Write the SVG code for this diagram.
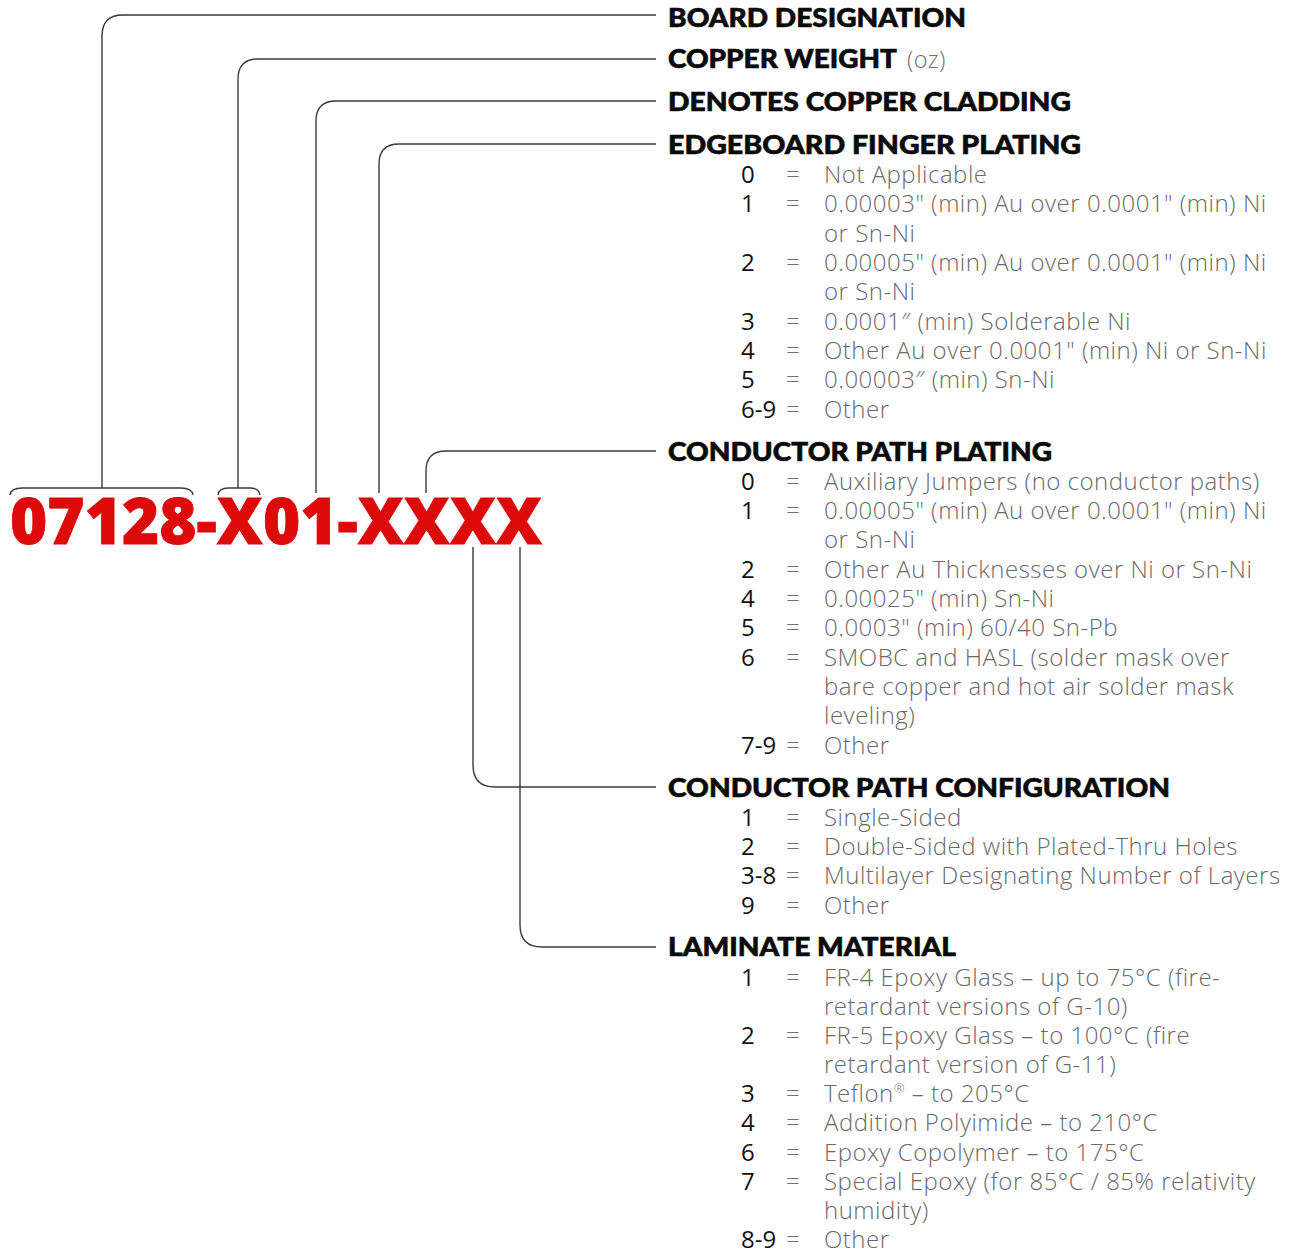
<svg xmlns="http://www.w3.org/2000/svg" width="1294" height="1253" viewBox="0 0 1294 1253">
<style>
.bg{fill:#ffffff}
.ln{fill:none;stroke:#3a3a3a;stroke-width:1.4}
.pn{font-family:"Open Sans","Liberation Sans",sans-serif;font-weight:800;font-size:64px;fill:#dc0a0a;stroke:#dc0a0a;stroke-width:0.8}
.hd{font-family:"Lato","Liberation Sans",sans-serif;font-weight:900;font-size:26px;fill:#0a0a0a;stroke:#0a0a0a;stroke-width:0.6}
.oz{font-family:"Open Sans","Liberation Sans",sans-serif;font-weight:300;font-size:23.5px;fill:#707070;letter-spacing:0.3px}
.n{font-family:"Open Sans","Liberation Sans",sans-serif;font-weight:400;font-size:24px;fill:#111111}
.eq{font-family:"Open Sans","Liberation Sans",sans-serif;font-weight:300;font-size:24px;fill:#707070}
.d{font-family:"Open Sans","Liberation Sans",sans-serif;font-weight:300;font-size:24px;fill:#6a6a6a;letter-spacing:0.5px}
</style>
<rect class="bg" x="0" y="0" width="1294" height="1253"/>
<g id="connectors">
<path class="ln" d="M10,495 Q11,488 22,488 L181,488 Q192,488 193,495"/>
<path class="ln" d="M102,488 L102,36 Q102,15 123,15 L656,15"/>
<path class="ln" d="M218,495 Q219,488 228,488 L250,488 Q259,488 260,495"/>
<path class="ln" d="M238,488 L238,79 Q238,59 258,59 L656,59"/>
<path class="ln" d="M316,493 L316,121 Q316,101 336,101 L656,101"/>
<path class="ln" d="M379,493 L379,164 Q379,144 399,144 L656,144"/>
<path class="ln" d="M426,493 L426,471 Q426,451 446,451 L656,451"/>
<path class="ln" d="M473,547 L473,765 Q473,787 495,787 L656,787"/>
<path class="ln" d="M520,547 L520,925 Q520,947 542,947 L656,947"/>
</g>
<g id="part-number">
<text class="pn" x="10" y="544" textLength="532" lengthAdjust="spacingAndGlyphs">07128-X01-XXXX</text>
</g>
<g id="board-designation">
<text class="hd" x="668" y="26.5" textLength="298" lengthAdjust="spacingAndGlyphs">BOARD DESIGNATION</text>
</g>
<g id="copper-weight">
<text class="hd" x="668" y="68" textLength="229" lengthAdjust="spacingAndGlyphs">COPPER WEIGHT</text>
<text class="oz" x="907" y="68">(oz)</text>
</g>
<g id="copper-cladding">
<text class="hd" x="668" y="111" textLength="403" lengthAdjust="spacingAndGlyphs">DENOTES COPPER CLADDING</text>
</g>
<g id="edgeboard-finger-plating">
<text class="hd" x="668" y="153.5" textLength="413" lengthAdjust="spacingAndGlyphs">EDGEBOARD FINGER PLATING</text>
<text class="n" x="741" y="183">0</text><text class="eq" x="786" y="183">=</text><text class="d" x="824" y="183">Not Applicable</text>
<text class="n" x="741" y="212.3">1</text><text class="eq" x="786" y="212.3">=</text><text class="d" x="824" y="212.3">0.00003" (min) Au over 0.0001" (min) Ni</text>
<text class="d" x="824" y="241.7">or Sn-Ni</text>
<text class="n" x="741" y="271">2</text><text class="eq" x="786" y="271">=</text><text class="d" x="824" y="271">0.00005" (min) Au over 0.0001" (min) Ni</text>
<text class="d" x="824" y="300.3">or Sn-Ni</text>
<text class="n" x="741" y="329.7">3</text><text class="eq" x="786" y="329.7">=</text><text class="d" x="824" y="329.7">0.0001″ (min) Solderable Ni</text>
<text class="n" x="741" y="359">4</text><text class="eq" x="786" y="359">=</text><text class="d" x="824" y="359">Other Au over 0.0001" (min) Ni or Sn-Ni</text>
<text class="n" x="741" y="388.3">5</text><text class="eq" x="786" y="388.3">=</text><text class="d" x="824" y="388.3">0.00003″ (min) Sn-Ni</text>
<text class="n" x="741" y="417.7">6-9</text><text class="eq" x="786" y="417.7">=</text><text class="d" x="824" y="417.7">Other</text>
</g>
<g id="conductor-path-plating">
<text class="hd" x="668" y="461" textLength="384" lengthAdjust="spacingAndGlyphs">CONDUCTOR PATH PLATING</text>
<text class="n" x="741" y="489.5">0</text><text class="eq" x="786" y="489.5">=</text><text class="d" x="824" y="489.5">Auxiliary Jumpers (no conductor paths)</text>
<text class="n" x="741" y="518.8">1</text><text class="eq" x="786" y="518.8">=</text><text class="d" x="824" y="518.8">0.00005" (min) Au over 0.0001" (min) Ni</text>
<text class="d" x="824" y="548.2">or Sn-Ni</text>
<text class="n" x="741" y="577.5">2</text><text class="eq" x="786" y="577.5">=</text><text class="d" x="824" y="577.5">Other Au Thicknesses over Ni or Sn-Ni</text>
<text class="n" x="741" y="606.8">4</text><text class="eq" x="786" y="606.8">=</text><text class="d" x="824" y="606.8">0.00025" (min) Sn-Ni</text>
<text class="n" x="741" y="636.2">5</text><text class="eq" x="786" y="636.2">=</text><text class="d" x="824" y="636.2">0.0003" (min) 60/40 Sn-Pb</text>
<text class="n" x="741" y="665.5">6</text><text class="eq" x="786" y="665.5">=</text><text class="d" x="824" y="665.5">SMOBC and HASL (solder mask over</text>
<text class="d" x="824" y="694.8">bare copper and hot air solder mask</text>
<text class="d" x="824" y="724.2">leveling)</text>
<text class="n" x="741" y="753.5">7-9</text><text class="eq" x="786" y="753.5">=</text><text class="d" x="824" y="753.5">Other</text>
</g>
<g id="conductor-path-configuration">
<text class="hd" x="668" y="797" textLength="502" lengthAdjust="spacingAndGlyphs">CONDUCTOR PATH CONFIGURATION</text>
<text class="n" x="741" y="825.5">1</text><text class="eq" x="786" y="825.5">=</text><text class="d" x="824" y="825.5">Single-Sided</text>
<text class="n" x="741" y="854.8">2</text><text class="eq" x="786" y="854.8">=</text><text class="d" x="824" y="854.8">Double-Sided with Plated-Thru Holes</text>
<text class="n" x="741" y="884.2">3-8</text><text class="eq" x="786" y="884.2">=</text><text class="d" x="824" y="884.2">Multilayer Designating Number of Layers</text>
<text class="n" x="741" y="913.5">9</text><text class="eq" x="786" y="913.5">=</text><text class="d" x="824" y="913.5">Other</text>
</g>
<g id="laminate-material">
<text class="hd" x="668" y="955.5" textLength="288" lengthAdjust="spacingAndGlyphs">LAMINATE MATERIAL</text>
<text class="n" x="741" y="985.5">1</text><text class="eq" x="786" y="985.5">=</text><text class="d" x="824" y="985.5">FR-4 Epoxy Glass – up to 75°C (fire-</text>
<text class="d" x="824" y="1014.7">retardant versions of G-10)</text>
<text class="n" x="741" y="1043.8">2</text><text class="eq" x="786" y="1043.8">=</text><text class="d" x="824" y="1043.8">FR-5 Epoxy Glass – to 100°C (fire</text>
<text class="d" x="824" y="1073">retardant version of G-11)</text>
<text class="n" x="741" y="1102.2">3</text><text class="eq" x="786" y="1102.2">=</text><text class="d" x="824" y="1102.2">Teflon<tspan font-size="13" dy="-9">®</tspan><tspan dy="9"> – to 205°C</tspan></text>
<text class="n" x="741" y="1131.3">4</text><text class="eq" x="786" y="1131.3">=</text><text class="d" x="824" y="1131.3">Addition Polyimide – to 210°C</text>
<text class="n" x="741" y="1160.5">6</text><text class="eq" x="786" y="1160.5">=</text><text class="d" x="824" y="1160.5">Epoxy Copolymer – to 175°C</text>
<text class="n" x="741" y="1189.7">7</text><text class="eq" x="786" y="1189.7">=</text><text class="d" x="824" y="1189.7">Special Epoxy (for 85°C / 85% relativity</text>
<text class="d" x="824" y="1218.8">humidity)</text>
<text class="n" x="741" y="1248">8-9</text><text class="eq" x="786" y="1248">=</text><text class="d" x="824" y="1248">Other</text>
</g>
</svg>
